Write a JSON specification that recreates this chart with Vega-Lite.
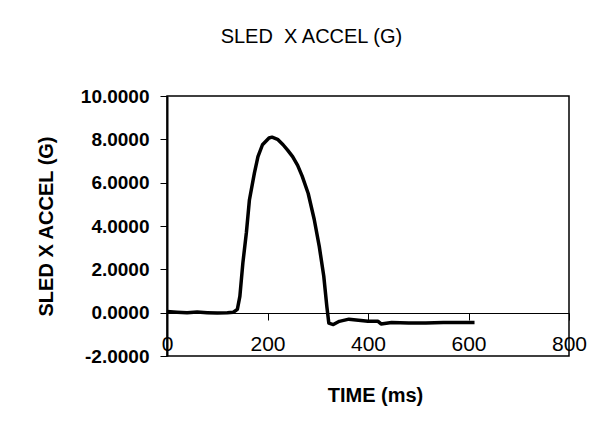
{
  "$schema": "https://vega.github.io/schema/vega-lite/v6.json",
  "width": 402,
  "height": 260,
  "autosize": {"type": "none"},
  "padding": {"left": 167, "top": 96, "right": 43, "bottom": 82},
  "background": "white",
  "title": {
    "text": "SLED\u00a0 X ACCEL (G)",
    "font": "Liberation Sans",
    "fontSize": 20,
    "fontWeight": "normal",
    "color": "black",
    "anchor": "middle",
    "frame": "bounds",
    "offset": 40
  },
  "data": {
    "values": [
      {"t": 0, "g": 0.05}, {"t": 20, "g": 0.02}, {"t": 40, "g": 0.0}, {"t": 60, "g": 0.03},
      {"t": 80, "g": 0.0}, {"t": 100, "g": -0.02}, {"t": 120, "g": 0.0}, {"t": 132, "g": 0.02},
      {"t": 140, "g": 0.15}, {"t": 145, "g": 0.75}, {"t": 151, "g": 2.3}, {"t": 158, "g": 3.7},
      {"t": 164, "g": 5.2}, {"t": 174, "g": 6.45}, {"t": 181, "g": 7.2}, {"t": 190, "g": 7.75},
      {"t": 203, "g": 8.06}, {"t": 209, "g": 8.1}, {"t": 220, "g": 8.0}, {"t": 231, "g": 7.75},
      {"t": 240, "g": 7.5}, {"t": 250, "g": 7.2}, {"t": 260, "g": 6.8}, {"t": 269, "g": 6.3},
      {"t": 281, "g": 5.5}, {"t": 293, "g": 4.3}, {"t": 303, "g": 3.06}, {"t": 312, "g": 1.68},
      {"t": 318, "g": 0.3}, {"t": 322, "g": -0.48}, {"t": 331, "g": -0.55}, {"t": 343, "g": -0.4},
      {"t": 362, "g": -0.3}, {"t": 381, "g": -0.35}, {"t": 400, "g": -0.4}, {"t": 420, "g": -0.4},
      {"t": 426, "g": -0.52}, {"t": 447, "g": -0.45}, {"t": 481, "g": -0.48}, {"t": 515, "g": -0.48},
      {"t": 550, "g": -0.45}, {"t": 584, "g": -0.45}, {"t": 612, "g": -0.45}
    ]
  },
  "mark": {"type": "line", "color": "black", "strokeWidth": 3.5, "strokeJoin": "round"},
  "encoding": {
    "x": {
      "field": "t",
      "type": "quantitative",
      "scale": {"domain": [0, 800], "nice": false, "zero": false},
      "axis": {
        "title": "TIME (ms)",
        "values": [0, 200, 400, 600, 800],
        "offset": -43,
        "grid": false,
        "domainColor": "black",
        "domainWidth": 1,
        "tickColor": "black",
        "tickSize": 7,
        "labelFont": "Liberation Sans",
        "labelFontSize": 21,
        "labelColor": "black",
        "labelPadding": 13,
        "labelFlush": false,
        "labelOverlap": false,
        "titleFont": "Liberation Sans",
        "titleFontSize": 20,
        "titleFontWeight": "bold",
        "titleColor": "black",
        "titlePadding": 31,
        "titleX": 208
      }
    },
    "y": {
      "field": "g",
      "type": "quantitative",
      "scale": {"domain": [-2, 10], "nice": false, "zero": false},
      "axis": {
        "title": "SLED X ACCEL (G)",
        "values": [-2, 0, 2, 4, 6, 8, 10],
        "labelExpr": "replace(format(datum.value, '.4f'), '\u2212', '-')",
        "grid": false,
        "domainColor": "black",
        "domainWidth": 2,
        "tickColor": "black",
        "tickSize": 7,
        "labelFont": "Liberation Sans",
        "labelFontSize": 19,
        "labelFontWeight": "bold",
        "labelColor": "black",
        "labelPadding": 11,
        "labelOverlap": false,
        "titleFont": "Liberation Sans",
        "titleFontSize": 20,
        "titleFontWeight": "bold",
        "titleColor": "black",
        "titlePadding": 24
      }
    }
  },
  "config": {"view": {"stroke": "black", "strokeWidth": 1.5}}
}
